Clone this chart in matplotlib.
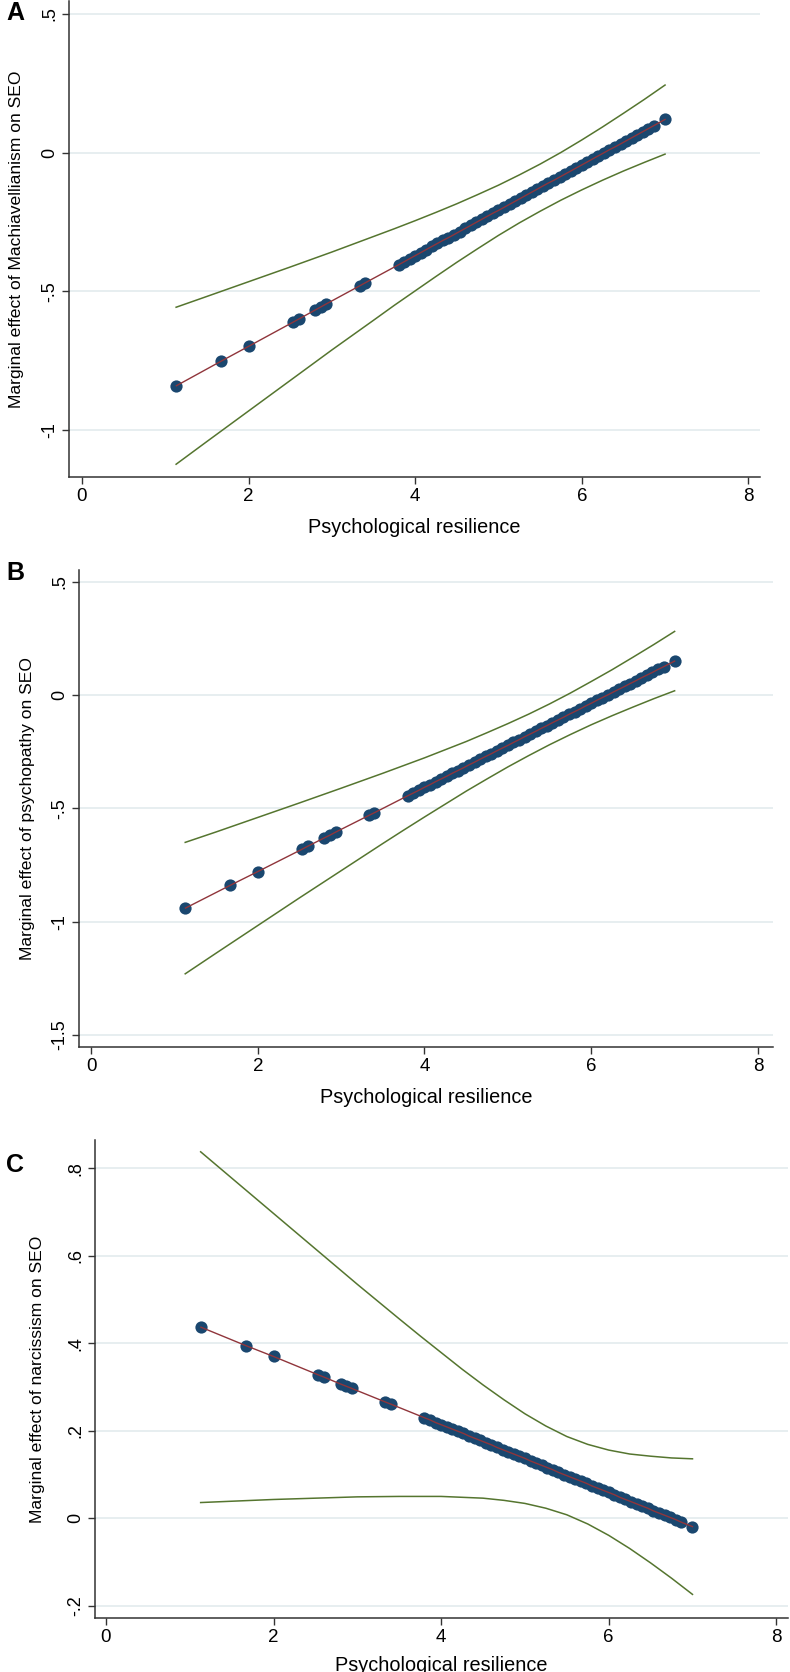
import numpy as np
import matplotlib
matplotlib.use("Agg")
import matplotlib.pyplot as plt

# psychological resilience levels present in the sample
resilience = [1.133, 1.667, 2.0, 2.533, 2.6, 2.8, 2.867, 2.933, 3.333, 3.4,
              3.8, 3.867, 3.933,
              4.0, 4.067, 4.133, 4.2, 4.267, 4.333, 4.4, 4.467, 4.533, 4.6,
              4.667, 4.733, 4.8, 4.867, 4.933, 5.0, 5.067, 5.133, 5.2, 5.267,
              5.333, 5.4, 5.467, 5.533, 5.6, 5.667, 5.733, 5.8, 5.867, 5.933,
              6.0, 6.067, 6.133, 6.2, 6.267, 6.333, 6.4, 6.467, 6.533, 6.6,
              6.667, 6.733, 6.8, 6.867, 7.0]

# marginal effects at those levels (A: Machiavellianism, B: psychopathy, C: narcissism)
me_mach = [-0.840, -0.752, -0.698, -0.611, -0.600, -0.567, -0.556, -0.545,
           -0.480, -0.469, -0.404, -0.393, -0.382,
           -0.371, -0.360, -0.349, -0.338, -0.327, -0.316, -0.306, -0.295,
           -0.284, -0.273, -0.262, -0.251, -0.240, -0.229, -0.218, -0.208,
           -0.197, -0.186, -0.175, -0.164, -0.153, -0.142, -0.131, -0.120,
           -0.109, -0.099, -0.088, -0.077, -0.066, -0.055, -0.044, -0.033,
           -0.022, -0.011, 0.000, 0.011, 0.021, 0.032, 0.043, 0.054, 0.065,
           0.076, 0.087, 0.098, 0.120]
me_psych = [-0.940, -0.840, -0.779, -0.680, -0.667, -0.630, -0.618, -0.605,
            -0.531, -0.519, -0.444, -0.432, -0.420,
            -0.407, -0.395, -0.382, -0.370, -0.358, -0.345, -0.333, -0.321,
            -0.308, -0.296, -0.283, -0.271, -0.259, -0.246, -0.234, -0.222,
            -0.209, -0.197, -0.184, -0.172, -0.160, -0.147, -0.135, -0.122,
            -0.110, -0.098, -0.085, -0.073, -0.061, -0.048, -0.036, -0.023,
            -0.011, 0.001, 0.014, 0.026, 0.038, 0.051, 0.063, 0.076, 0.088,
            0.100, 0.113, 0.125, 0.150]
me_narc = [0.437, 0.395, 0.370, 0.328, 0.323, 0.307, 0.302, 0.297, 0.266,
           0.261, 0.230, 0.225, 0.219,
           0.214, 0.209, 0.204, 0.199, 0.194, 0.188, 0.183, 0.178, 0.173,
           0.168, 0.162, 0.157, 0.152, 0.147, 0.142, 0.137, 0.131, 0.126,
           0.121, 0.116, 0.111, 0.105, 0.100, 0.095, 0.090, 0.085, 0.080,
           0.074, 0.069, 0.064, 0.059, 0.054, 0.048, 0.043, 0.038, 0.033,
           0.028, 0.023, 0.017, 0.012, 0.007, 0.002, -0.003, -0.009, -0.019]

# confidence band, read at these resilience values
ci_x = [1.13, 1.5, 2.0, 2.5, 3.0, 3.5, 3.75, 4.0, 4.25, 4.5, 4.75, 5.0, 5.25,
        5.5, 5.75, 6.0, 6.25, 6.5, 6.75, 7.0]
mach_hi = [-0.557, -0.518, -0.465, -0.412, -0.358, -0.302, -0.274, -0.245,
           -0.215, -0.184, -0.151, -0.117, -0.080, -0.041, 0.001, 0.046,
           0.093, 0.142, 0.192, 0.244]
mach_lo = [-1.123, -1.041, -0.931, -0.821, -0.711, -0.604, -0.550, -0.498,
           -0.446, -0.395, -0.346, -0.298, -0.253, -0.211, -0.171, -0.134,
           -0.099, -0.066, -0.035, -0.005]
psych_hi = [-0.650, -0.604, -0.540, -0.476, -0.411, -0.345, -0.311, -0.277,
            -0.241, -0.205, -0.166, -0.126, -0.084, -0.039, 0.009, 0.060,
            0.112, 0.167, 0.223, 0.281]
psych_lo = [-1.230, -1.139, -1.017, -0.895, -0.775, -0.655, -0.596, -0.538,
            -0.481, -0.424, -0.370, -0.317, -0.267, -0.219, -0.174, -0.131,
            -0.091, -0.053, -0.016, 0.019]
narc_hi = [0.838, 0.778, 0.697, 0.616, 0.535, 0.456, 0.417, 0.379, 0.341,
           0.305, 0.271, 0.239, 0.211, 0.187, 0.169, 0.156, 0.147, 0.142,
           0.138, 0.136]
narc_lo = [0.036, 0.039, 0.043, 0.046, 0.049, 0.050, 0.050, 0.050, 0.048,
           0.046, 0.041, 0.034, 0.023, 0.008, -0.013, -0.039, -0.069, -0.102,
           -0.137, -0.174]

x_ticks = [0, 2, 4, 6, 8]
yticks_mach = [-1, -0.5, 0, 0.5]
ylabels_mach = ["-1", "-.5", "0", ".5"]
yticks_psych = [-1.5, -1, -0.5, 0, 0.5]
ylabels_psych = ["-1.5", "-1", "-.5", "0", ".5"]
yticks_narc = [-0.2, 0, 0.2, 0.4, 0.6, 0.8]
ylabels_narc = ["-.2", "0", ".2", ".4", ".6", ".8"]

# stata s2color
navy = "#1a476f"
maroon = "#90353b"
green = "#55752f"
grid_col = "#e3ebee"

plt.rcParams["font.family"] = ["Liberation Sans", "DejaVu Sans"]

W, H = 790, 1672
fig = plt.figure(figsize=(W / 100, H / 100), dpi=100)


def panel(rect, me, hi, lo, yticks, ylabels, xlim, ylim, ylab, letter, letter_pos,
          ylab_x, xlab_y):
    # rect in pixels: left, top, right, bottom
    l, t, r, b = rect
    ax = fig.add_axes([l / W, 1 - b / H, (r - l) / W, (b - t) / H])

    for yv in yticks:
        ax.axhline(yv, color=grid_col, lw=1.2, zorder=0)

    ax.plot(ci_x, hi, color=green, lw=1.1, zorder=2)
    ax.plot(ci_x, lo, color=green, lw=1.1, zorder=2)
    ax.plot(resilience, me, ls="none", marker="o", ms=8.8, color=navy,
            markeredgewidth=0, zorder=3)
    ax.plot(resilience, me, color=maroon, lw=1.0, zorder=4)

    ax.set_xlim(xlim)
    ax.set_ylim(ylim)
    ax.set_xticks(x_ticks)
    ax.set_yticks(yticks)
    ax.set_yticklabels(ylabels)

    for side in ["top", "right"]:
        ax.spines[side].set_visible(False)
    for side in ["left", "bottom"]:
        ax.spines[side].set_color("#333333")
        ax.spines[side].set_linewidth(1.1)

    ax.tick_params(axis="both", length=5, width=1.0, color="#333333", pad=3)
    ax.tick_params(axis="x", labelsize=13.5)
    ax.tick_params(axis="y", labelrotation=90, labelsize=13)
    for lab in ax.get_yticklabels():
        lab.set_va("center")

    ax.set_xlabel("Psychological resilience", fontsize=14.3)
    ax.xaxis.set_label_coords(0.5, xlab_y)
    ax.set_ylabel(ylab, fontsize=12.6)
    ax.yaxis.set_label_coords(ylab_x, 0.5)

    fig.text(letter_pos[0] / W, 1 - letter_pos[1] / H, letter, fontsize=18,
             fontweight="bold", va="top", ha="left")
    return ax


panel((69, 1, 760, 477), me_mach, mach_hi, mach_lo, yticks_mach, ylabels_mach,
      (-0.156, 8.14), (-1.169, 0.547),
      "Marginal effect of Machiavellianism on SEO", "A", (6, 1), -0.065, -0.086)

panel((79, 570, 773, 1047), me_psych, psych_hi, psych_lo, yticks_psych,
      ylabels_psych, (-0.144, 8.18), (-1.553, 0.552),
      "Marginal effect of psychopathy on SEO", "B", (6, 561), -0.063, -0.086)

panel((95, 1140, 788, 1618), me_narc, narc_hi, narc_lo, yticks_narc,
      ylabels_narc, (-0.131, 8.14), (-0.228, 0.865),
      "Marginal effect of narcissism on SEO", "C", (6, 1153), -0.072, -0.080)

fig.savefig("out.png", dpi=100)
